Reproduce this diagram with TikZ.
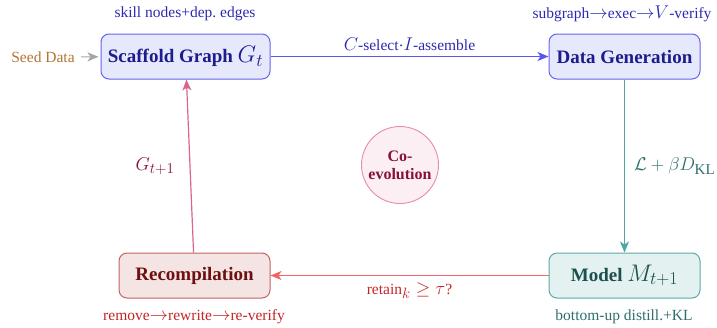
\RequirePackage{fix-cm}
\documentclass[tikz,border=0pt]{standalone}
\usepackage{fontspec}
\setmainfont{Liberation Serif}
\DeclareMathSizes{15.5}{18.5}{15}{11}
\DeclareMathSizes{19}{24}{18}{13}
\usetikzlibrary{arrows.meta}
\definecolor{bluefill}{HTML}{E6E8FC}
\definecolor{blueline}{HTML}{6464F0}
\definecolor{bluetext}{HTML}{1C1C8C}
\definecolor{bluearrow}{HTML}{5656F2}
\definecolor{bluelabel}{HTML}{2A2AB0}
\definecolor{tealfill}{HTML}{E4F1F1}
\definecolor{tealline}{HTML}{5AAAAA}
\definecolor{tealtext}{HTML}{1C4F4F}
\definecolor{tealarrow}{HTML}{4FA6A6}
\definecolor{teallabel}{HTML}{2E6E6E}
\definecolor{redfill}{HTML}{F4E4E4}
\definecolor{redline}{HTML}{C26464}
\definecolor{redtext}{HTML}{6E1010}
\definecolor{redarrow}{HTML}{F06464}
\definecolor{redlabel}{HTML}{C42424}
\definecolor{pinkarrow}{HTML}{DA6490}
\definecolor{pinkfill}{HTML}{FBEFF4}
\definecolor{pinkline}{HTML}{E68CAA}
\definecolor{pinktext}{HTML}{86103C}
\definecolor{seedcol}{HTML}{B47434}
\begin{document}
\begin{tikzpicture}[x=1pt,y=-1pt,
  box/.style={draw, rounded corners=8pt, line width=1pt, minimum height=45pt, inner sep=2pt,
     font=\fontsize{19}{22}\selectfont\bfseries},
  lbl/.style={font=\fontsize{15.5}{18}\selectfont, inner sep=1pt},
  arr/.style={line width=1.2pt, -{Stealth[length=11pt,width=9pt,inset=3pt]}}
]
\useasboundingbox (0,0) rectangle (717,327);
\node[box, fill=bluefill, draw=blueline, text=bluetext, minimum width=169pt] (sg) at (185.5,56.5) {Scaffold Graph $G_t$};
\node[box, fill=bluefill, draw=blueline, text=bluetext, minimum width=151pt] (dg) at (624.5,56.5) {Data Generation};
\node[box, fill=tealfill, draw=tealline, text=tealtext, minimum width=151pt] (md) at (624.5,275.5) {Model $M_{t+1}$};
\node[box, fill=redfill, draw=redline, text=redtext, minimum width=151pt] (rc) at (194.5,275.5) {Recompilation};
\node[circle, draw=pinkline, fill=pinkfill, line width=0.9pt, minimum size=77pt, inner sep=0pt, align=center,
  text=pinktext, font=\fontsize{16}{18}\selectfont\bfseries] (co) at (400,165) {Co-\\evolution};
\node[lbl, text=seedcol] (seed) at (43,57) {Seed Data};
\node[lbl, text=bluelabel] (l1) at (185,13.5) {skill nodes+dep.\ edges};
\node[lbl, text=bluelabel] (l2) at (622,14) {subgraph$\rightarrow$exec$\rightarrow$$V$-verify};
\node[lbl, text=redlabel] (l3) at (194,317) {remove$\rightarrow$rewrite$\rightarrow$re-verify};
\node[lbl, text=teallabel] (l4) at (624,317) {bottom-up distill.+KL};
\draw[arr, draw=gray!70, line width=1pt, shorten <=5pt, shorten >=2pt] (seed) -- (sg);
\draw[arr, draw=bluearrow] (sg) -- node[lbl, above=4pt, text=bluelabel] {$C$-select$\cdot$$I$-assemble} (dg);
\draw[arr, draw=tealarrow] (dg) -- node[lbl, right=8pt, text=teallabel] {$\mathcal{L}+\beta D_{\mathrm{KL}}$} (md);
\draw[arr, draw=redarrow] (md) -- node[lbl, below=6pt, text=redlabel] {retain$_k\geq\tau$?} (rc);
\draw[arr, draw=pinkarrow] (rc) -- node[lbl, left=14pt, text=pinktext] {$G_{t+1}$} (sg);
\end{tikzpicture}
\end{document}
